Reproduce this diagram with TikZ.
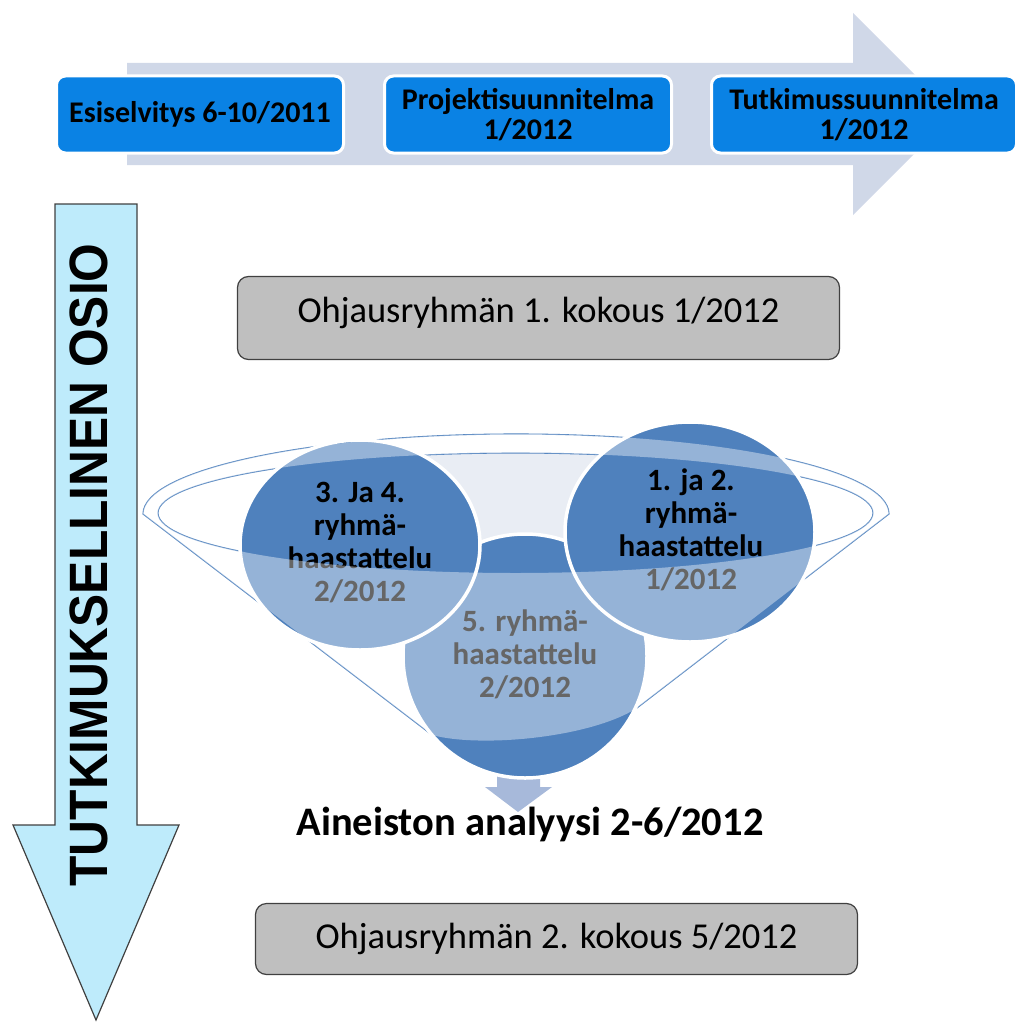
\documentclass[tikz,border=0pt]{standalone}
\usepackage{fontspec}
\setmainfont{Carlito}
\newfontfamily\arrowfont{Liberation Sans}
\usetikzlibrary{positioning}

\definecolor{timeline}{RGB}{208,216,232}
\definecolor{phaseblue}{RGB}{10,130,228}
\definecolor{circleblue}{RGB}{79,129,189}
\definecolor{gapfill}{RGB}{233,237,244}
\definecolor{meetgray}{RGB}{191,191,191}
\definecolor{edgegray}{RGB}{64,64,64}
\definecolor{sidecyan}{RGB}{190,235,251}
\definecolor{pointer}{RGB}{167,185,218}

\begin{document}
\begin{tikzpicture}[
    x=1pt, y=-1pt,
    phase/.style={draw=white, line width=3pt, fill=phaseblue, rounded corners=9pt, minimum width=287pt, minimum height=77pt, align=center, font=\bfseries\fontsize{30}{30}\selectfont},
    meeting/.style={draw=edgegray, line width=1.2pt, fill=meetgray, rounded corners=11pt, minimum width=602pt, font=\fontsize{36.5}{40}\selectfont},
    interview/.style={align=center, font=\bfseries\fontsize{31}{33}\selectfont},
    funnelline/.style={draw=circleblue, line width=1.1pt},
    disc/.style={fill=circleblue, draw=white, line width=3.5pt}
]
\useasboundingbox (0,0) rectangle (1019,1022);

% aikajana
\fill[timeline] (127,63) -- (853,63) -- (853,13) -- (954,114) -- (853,215) -- (853,165) -- (127,165) -- cycle;
\node[phase] (pre) at (200,114.5) {Esiselvitys 6-10/2011};
\node[phase, right=38pt of pre] (plan) {Projektisuunnitelma\\1/2012};
\node[phase, right=37pt of plan, minimum width=305pt] (study) {Tutkimussuunnitelma\\1/2012};

% sivunuoli
\draw[edgegray, line width=1.2pt, fill=sidecyan] (55,204) -- (137,204) -- (137,825) -- (179,825) -- (96,1020) -- (13,825) -- (55,825) -- cycle;
\node[rotate=90, font=\arrowfont\bfseries\fontsize{54}{60}\selectfont] (section) at (89,565) {\scalebox{0.92}[1]{TUTKIMUKSELLINEN OSIO}};

% ohjausryhmä
\node[meeting, minimum height=83pt, text height=24pt, text depth=16pt] (meet1) at (538.5,318) {Ohjausryhmän 1. kokous 1/2012};
\node[meeting, minimum height=71pt] (meet2) at (556.5,939) {Ohjausryhmän 2. kokous 5/2012};

% suppilo
\begin{scope}
\clip (360,400) rectangle (690,600);
\fill[gapfill] (515.5,513) ellipse [x radius=357.5pt, y radius=60pt];
\end{scope}
\draw[funnelline] (515.5,513) ellipse [x radius=357.5pt, y radius=60pt];
\draw[funnelline] (432,735) -- (143,514) arc [start angle=180, end angle=0, x radius=373pt, y radius=80pt] -- (637,708);

\fill[pointer] (497,770) -- (540,770) -- (540,787) -- (552,787) -- (518,812) -- (485,787) -- (497,787) -- cycle;

\filldraw[disc] (525,656) circle [radius=122pt];
\filldraw[disc] (360,545) ellipse [x radius=120pt, y radius=105pt];
\filldraw[disc] (690,532) ellipse [x radius=125pt, y radius=110pt];

\node[interview] (g34) at (360,543) {3. Ja 4.\\ryhmä-\\haastattelu\\2/2012};
\node[interview] (g12) at (691,530) {1. ja 2.\\ryhmä-\\haastattelu\\1/2012};
\node[interview] (g5) at (525,654) {5. ryhmä-\\haastattelu\\2/2012};

% suppilon etuosa
\fill[white, opacity=0.4]
  (143,514) arc [start angle=180, end angle=0, x radius=373pt, y radius=80pt]
  -- (873,513) arc [start angle=0, end angle=180, x radius=357.5pt, y radius=60pt] -- cycle
  (143,514) -- (432,735) .. controls (480,748) and (590,738) .. (637,708) -- (889,514)
  -- (873,513) arc [start angle=0, end angle=-180, x radius=357.5pt, y radius=60pt] -- cycle;

\node[font=\bfseries\fontsize{40.5}{44}\selectfont, anchor=base] (analysis) at (530,835) {Aineiston analyysi 2-6/2012};
\end{tikzpicture}
\end{document}
